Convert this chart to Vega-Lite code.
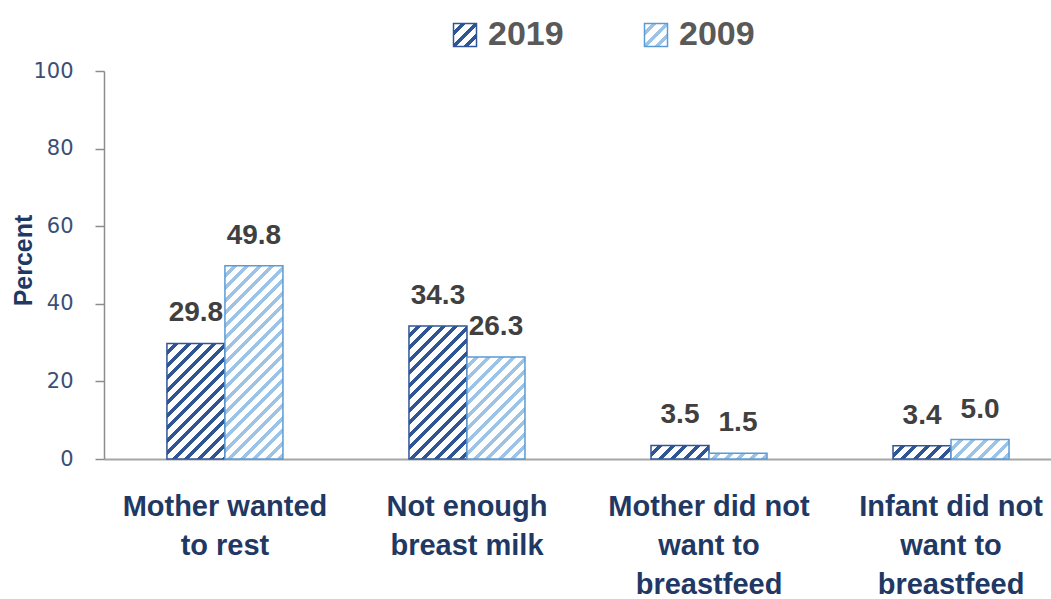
{
  "$schema": "https://vega.github.io/schema/vega-lite/v6.json",
  "width": 947,
  "height": 388,
  "autosize": {"type": "none"},
  "padding": {"left": 104, "top": 71, "right": 0, "bottom": 140},
  "background": "white",
  "config": {"view": {"stroke": null}, "font": "Liberation Sans"},
  "params": [
    {"name": "s19", "value": [
      {"offset":0,"color":"#ffffff"},{"offset":0.02727,"color":"#ffffff"},{"offset":0.02727,"color":"#2F5597"},{"offset":0.04545,"color":"#2F5597"},
      {"offset":0.04545,"color":"#ffffff"},{"offset":0.07273,"color":"#ffffff"},{"offset":0.07273,"color":"#2F5597"},{"offset":0.09091,"color":"#2F5597"},
      {"offset":0.09091,"color":"#ffffff"},{"offset":0.11818,"color":"#ffffff"},{"offset":0.11818,"color":"#2F5597"},{"offset":0.13636,"color":"#2F5597"},
      {"offset":0.13636,"color":"#ffffff"},{"offset":0.16364,"color":"#ffffff"},{"offset":0.16364,"color":"#2F5597"},{"offset":0.18182,"color":"#2F5597"},
      {"offset":0.18182,"color":"#ffffff"},{"offset":0.20909,"color":"#ffffff"},{"offset":0.20909,"color":"#2F5597"},{"offset":0.22727,"color":"#2F5597"},
      {"offset":0.22727,"color":"#ffffff"},{"offset":0.25455,"color":"#ffffff"},{"offset":0.25455,"color":"#2F5597"},{"offset":0.27273,"color":"#2F5597"},
      {"offset":0.27273,"color":"#ffffff"},{"offset":0.3,"color":"#ffffff"},{"offset":0.3,"color":"#2F5597"},{"offset":0.31818,"color":"#2F5597"},
      {"offset":0.31818,"color":"#ffffff"},{"offset":0.34545,"color":"#ffffff"},{"offset":0.34545,"color":"#2F5597"},{"offset":0.36364,"color":"#2F5597"},
      {"offset":0.36364,"color":"#ffffff"},{"offset":0.39091,"color":"#ffffff"},{"offset":0.39091,"color":"#2F5597"},{"offset":0.40909,"color":"#2F5597"},
      {"offset":0.40909,"color":"#ffffff"},{"offset":0.43636,"color":"#ffffff"},{"offset":0.43636,"color":"#2F5597"},{"offset":0.45455,"color":"#2F5597"},
      {"offset":0.45455,"color":"#ffffff"},{"offset":0.48182,"color":"#ffffff"},{"offset":0.48182,"color":"#2F5597"},{"offset":0.5,"color":"#2F5597"},
      {"offset":0.5,"color":"#ffffff"},{"offset":0.52727,"color":"#ffffff"},{"offset":0.52727,"color":"#2F5597"},{"offset":0.54545,"color":"#2F5597"},
      {"offset":0.54545,"color":"#ffffff"},{"offset":0.57273,"color":"#ffffff"},{"offset":0.57273,"color":"#2F5597"},{"offset":0.59091,"color":"#2F5597"},
      {"offset":0.59091,"color":"#ffffff"},{"offset":0.61818,"color":"#ffffff"},{"offset":0.61818,"color":"#2F5597"},{"offset":0.63636,"color":"#2F5597"},
      {"offset":0.63636,"color":"#ffffff"},{"offset":0.66364,"color":"#ffffff"},{"offset":0.66364,"color":"#2F5597"},{"offset":0.68182,"color":"#2F5597"},
      {"offset":0.68182,"color":"#ffffff"},{"offset":0.70909,"color":"#ffffff"},{"offset":0.70909,"color":"#2F5597"},{"offset":0.72727,"color":"#2F5597"},
      {"offset":0.72727,"color":"#ffffff"},{"offset":0.75455,"color":"#ffffff"},{"offset":0.75455,"color":"#2F5597"},{"offset":0.77273,"color":"#2F5597"},
      {"offset":0.77273,"color":"#ffffff"},{"offset":0.8,"color":"#ffffff"},{"offset":0.8,"color":"#2F5597"},{"offset":0.81818,"color":"#2F5597"},
      {"offset":0.81818,"color":"#ffffff"},{"offset":0.84545,"color":"#ffffff"},{"offset":0.84545,"color":"#2F5597"},{"offset":0.86364,"color":"#2F5597"},
      {"offset":0.86364,"color":"#ffffff"},{"offset":0.89091,"color":"#ffffff"},{"offset":0.89091,"color":"#2F5597"},{"offset":0.90909,"color":"#2F5597"},
      {"offset":0.90909,"color":"#ffffff"},{"offset":0.93636,"color":"#ffffff"},{"offset":0.93636,"color":"#2F5597"},{"offset":0.95455,"color":"#2F5597"},
      {"offset":0.95455,"color":"#ffffff"},{"offset":0.98182,"color":"#ffffff"},{"offset":0.98182,"color":"#2F5597"},{"offset":1,"color":"#2F5597"}
    ]},
    {"name": "s09", "value": [
      {"offset":0,"color":"#ffffff"},{"offset":0.02727,"color":"#ffffff"},{"offset":0.02727,"color":"#9DC3E6"},{"offset":0.04545,"color":"#9DC3E6"},
      {"offset":0.04545,"color":"#ffffff"},{"offset":0.07273,"color":"#ffffff"},{"offset":0.07273,"color":"#9DC3E6"},{"offset":0.09091,"color":"#9DC3E6"},
      {"offset":0.09091,"color":"#ffffff"},{"offset":0.11818,"color":"#ffffff"},{"offset":0.11818,"color":"#9DC3E6"},{"offset":0.13636,"color":"#9DC3E6"},
      {"offset":0.13636,"color":"#ffffff"},{"offset":0.16364,"color":"#ffffff"},{"offset":0.16364,"color":"#9DC3E6"},{"offset":0.18182,"color":"#9DC3E6"},
      {"offset":0.18182,"color":"#ffffff"},{"offset":0.20909,"color":"#ffffff"},{"offset":0.20909,"color":"#9DC3E6"},{"offset":0.22727,"color":"#9DC3E6"},
      {"offset":0.22727,"color":"#ffffff"},{"offset":0.25455,"color":"#ffffff"},{"offset":0.25455,"color":"#9DC3E6"},{"offset":0.27273,"color":"#9DC3E6"},
      {"offset":0.27273,"color":"#ffffff"},{"offset":0.3,"color":"#ffffff"},{"offset":0.3,"color":"#9DC3E6"},{"offset":0.31818,"color":"#9DC3E6"},
      {"offset":0.31818,"color":"#ffffff"},{"offset":0.34545,"color":"#ffffff"},{"offset":0.34545,"color":"#9DC3E6"},{"offset":0.36364,"color":"#9DC3E6"},
      {"offset":0.36364,"color":"#ffffff"},{"offset":0.39091,"color":"#ffffff"},{"offset":0.39091,"color":"#9DC3E6"},{"offset":0.40909,"color":"#9DC3E6"},
      {"offset":0.40909,"color":"#ffffff"},{"offset":0.43636,"color":"#ffffff"},{"offset":0.43636,"color":"#9DC3E6"},{"offset":0.45455,"color":"#9DC3E6"},
      {"offset":0.45455,"color":"#ffffff"},{"offset":0.48182,"color":"#ffffff"},{"offset":0.48182,"color":"#9DC3E6"},{"offset":0.5,"color":"#9DC3E6"},
      {"offset":0.5,"color":"#ffffff"},{"offset":0.52727,"color":"#ffffff"},{"offset":0.52727,"color":"#9DC3E6"},{"offset":0.54545,"color":"#9DC3E6"},
      {"offset":0.54545,"color":"#ffffff"},{"offset":0.57273,"color":"#ffffff"},{"offset":0.57273,"color":"#9DC3E6"},{"offset":0.59091,"color":"#9DC3E6"},
      {"offset":0.59091,"color":"#ffffff"},{"offset":0.61818,"color":"#ffffff"},{"offset":0.61818,"color":"#9DC3E6"},{"offset":0.63636,"color":"#9DC3E6"},
      {"offset":0.63636,"color":"#ffffff"},{"offset":0.66364,"color":"#ffffff"},{"offset":0.66364,"color":"#9DC3E6"},{"offset":0.68182,"color":"#9DC3E6"},
      {"offset":0.68182,"color":"#ffffff"},{"offset":0.70909,"color":"#ffffff"},{"offset":0.70909,"color":"#9DC3E6"},{"offset":0.72727,"color":"#9DC3E6"},
      {"offset":0.72727,"color":"#ffffff"},{"offset":0.75455,"color":"#ffffff"},{"offset":0.75455,"color":"#9DC3E6"},{"offset":0.77273,"color":"#9DC3E6"},
      {"offset":0.77273,"color":"#ffffff"},{"offset":0.8,"color":"#ffffff"},{"offset":0.8,"color":"#9DC3E6"},{"offset":0.81818,"color":"#9DC3E6"},
      {"offset":0.81818,"color":"#ffffff"},{"offset":0.84545,"color":"#ffffff"},{"offset":0.84545,"color":"#9DC3E6"},{"offset":0.86364,"color":"#9DC3E6"},
      {"offset":0.86364,"color":"#ffffff"},{"offset":0.89091,"color":"#ffffff"},{"offset":0.89091,"color":"#9DC3E6"},{"offset":0.90909,"color":"#9DC3E6"},
      {"offset":0.90909,"color":"#ffffff"},{"offset":0.93636,"color":"#ffffff"},{"offset":0.93636,"color":"#9DC3E6"},{"offset":0.95455,"color":"#9DC3E6"},
      {"offset":0.95455,"color":"#ffffff"},{"offset":0.98182,"color":"#ffffff"},{"offset":0.98182,"color":"#9DC3E6"},{"offset":1,"color":"#9DC3E6"}
    ]}
  ],
  "data": {"values": [
    {"reason": "Mother wanted to rest", "year": "2019", "value": 29.8},
    {"reason": "Mother wanted to rest", "year": "2009", "value": 49.8},
    {"reason": "Not enough breast milk", "year": "2019", "value": 34.3},
    {"reason": "Not enough breast milk", "year": "2009", "value": 26.3},
    {"reason": "Mother did not want to breastfeed", "year": "2019", "value": 3.5},
    {"reason": "Mother did not want to breastfeed", "year": "2009", "value": 1.5},
    {"reason": "Infant did not want to breastfeed", "year": "2019", "value": 3.4},
    {"reason": "Infant did not want to breastfeed", "year": "2009", "value": 5.0}
  ]},
  "encoding": {
    "x": {
      "field": "reason", "type": "nominal", "sort": null,
      "scale": {"paddingInner": 0.5207, "paddingOuter": 0.2167, "align": 0.6},
      "axis": {
        "title": null, "ticks": false, "domainColor": "#A6A6A6", "domainWidth": 2,
        "labelAngle": 0, "labelFont": "Liberation Sans", "labelFontSize": 29, "labelFontWeight": "bold",
        "labelColor": "#1F3864", "labelLineHeight": 39, "labelBaseline": "alphabetic",
        "labelPadding": 56, "labelLimit": 0, "labelOverlap": false, "labelBound": false,
        "labelExpr": "datum.value == 'Mother wanted to rest' ? ['Mother wanted', 'to rest'] : datum.value == 'Not enough breast milk' ? ['Not enough', 'breast milk'] : datum.value == 'Mother did not want to breastfeed' ? ['Mother did not', 'want to', 'breastfeed'] : ['Infant did not', 'want to', 'breastfeed']"
      }
    },
    "xOffset": {"field": "year", "type": "nominal", "sort": ["2019", "2009"], "scale": {"paddingInner": 0, "paddingOuter": 0}},
    "y": {
      "field": "value", "type": "quantitative",
      "scale": {"domain": [0, 100]},
      "axis": {
        "values": [0, 20, 40, 60, 80, 100], "grid": false,
        "domainColor": "#8C8C8C", "domainWidth": 1.5, "tickColor": "#8C8C8C", "tickWidth": 1.5, "tickSize": 9,
        "labelFont": "DejaVu Sans", "labelFontSize": 21, "labelColor": "#3B4E78", "labelPadding": 22,
        "title": "Percent", "titleFont": "Liberation Sans", "titleFontSize": 25, "titleFontWeight": "bold", "titleColor": "#1F3864",
        "titleX": -73, "titleY": 189, "titleAngle": 270, "titleAlign": "center", "titleBaseline": "alphabetic"
      }
    }
  },
  "layer": [
    {
      "mark": {"type": "bar", "strokeWidth": 1.5},
      "encoding": {
        "stroke": {
          "field": "year", "type": "nominal", "sort": ["2019", "2009"],
          "scale": {"domain": ["2019", "2009"], "range": ["#2F5597", "#5B9BD5"]},
          "legend": {
            "title": null, "orient": "none", "legendX": 344, "legendY": -53, "direction": "horizontal",
            "symbolType": "square", "symbolSize": 529, "symbolStrokeWidth": 1.5,
            "labelFont": "Liberation Sans", "labelFontSize": 34, "labelFontWeight": "bold", "labelColor": "#595959",
            "labelOffset": 6, "columnPadding": 75, "padding": 0
          }
        },
        "fill": {"value": {"expr": "datum.year ? {gradient: 'linear', x1: 0, y1: 0, x2: 275*bandwidth('xOffset')/(pow(bandwidth('xOffset'),2)+pow(scale('y',0)-scale('y',datum.value),2)), y2: 275*(scale('y',0)-scale('y',datum.value))/(pow(bandwidth('xOffset'),2)+pow(scale('y',0)-scale('y',datum.value),2)), stops: datum.year == '2019' ? s19 : s09} : {gradient: 'linear', x1: 0, y1: 0, x2: 5.98, y2: 5.98, stops: datum.value == '2019' ? s19 : s09}"}}
      }
    },
    {
      "mark": {"type": "text", "baseline": "alphabetic", "dy": -22, "font": "Liberation Sans", "fontSize": 28, "fontWeight": "bold", "color": "#404040"},
      "encoding": {"text": {"field": "value", "type": "quantitative", "format": ".1f"}}
    }
  ]
}
